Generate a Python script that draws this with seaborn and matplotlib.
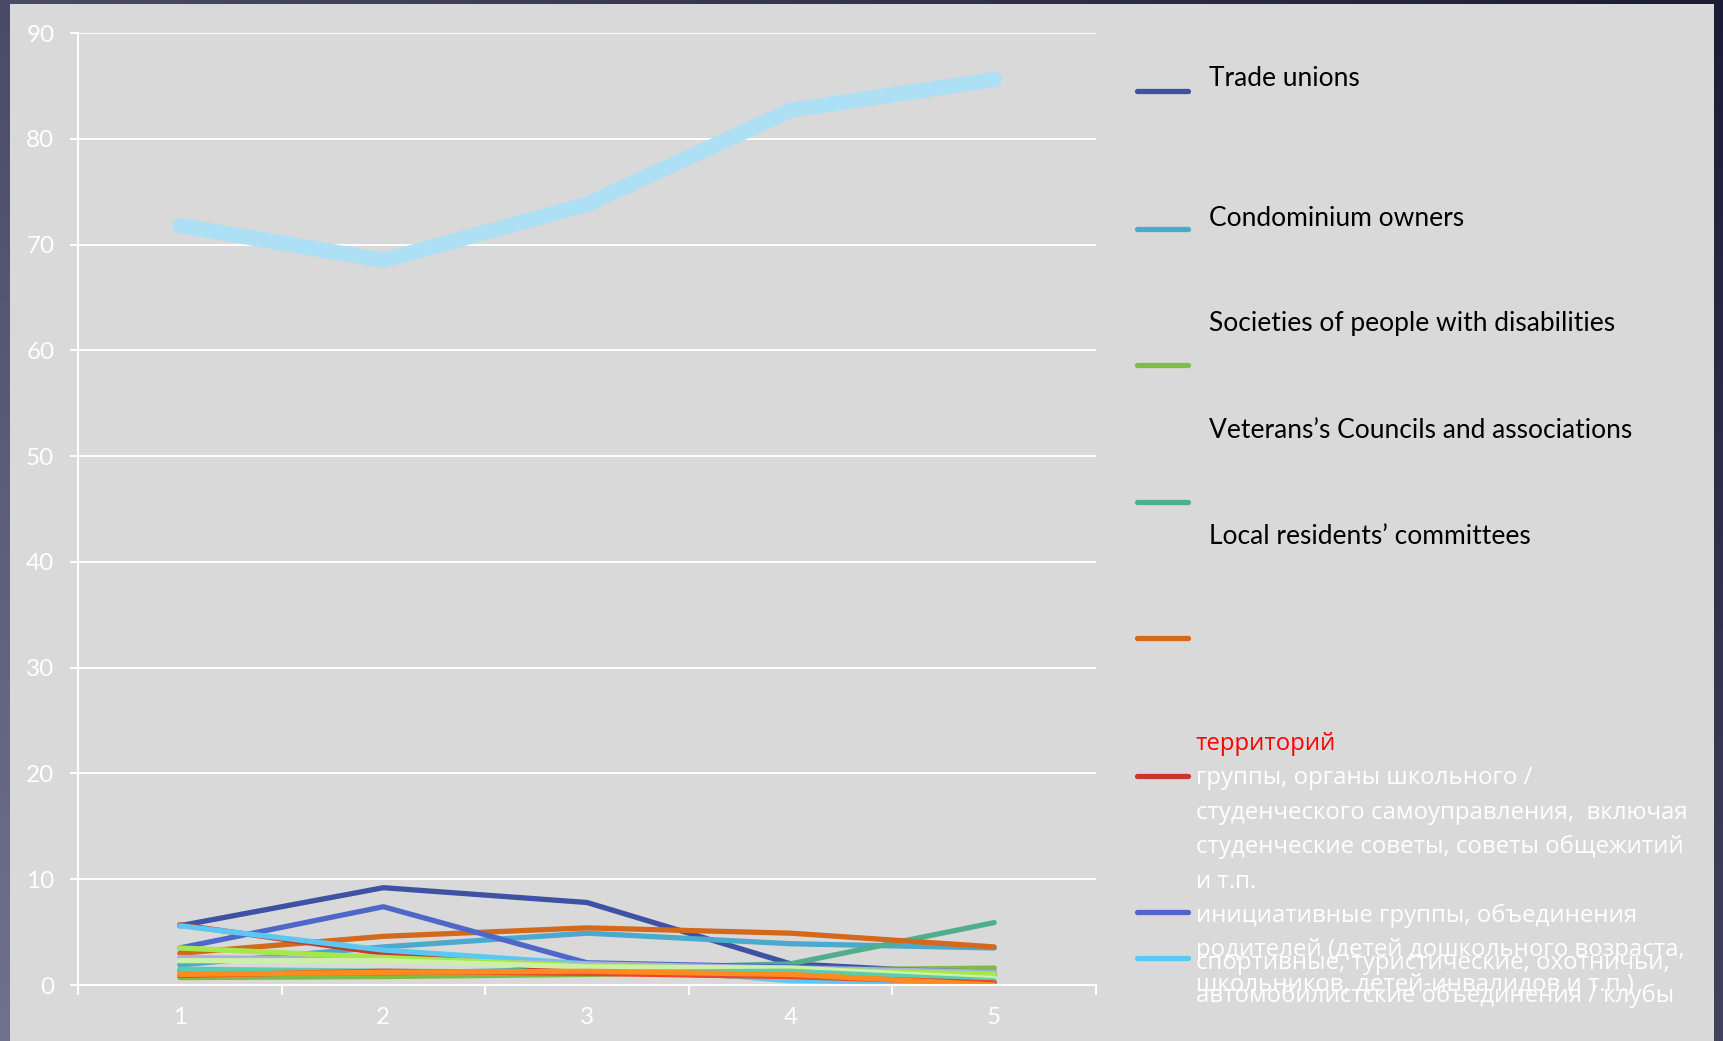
import numpy as np
import pandas as pd
import seaborn as sns
import matplotlib.pyplot as plt
from matplotlib.colors import LinearSegmentedColormap
from matplotlib.patches import Rectangle

# x categories
periods = [1, 2, 3, 4, 5]

# values
top_series = [71.8, 68.5, 73.8, 82.7, 85.6]
trade_unions = [5.6, 9.2, 7.8, 2.0, 1.0]
condominium = [1.9, 3.6, 4.9, 3.9, 3.5]
disabilities = [0.7, 0.8, 1.0, 1.4, 1.6]
veterans = [1.3, 1.1, 1.5, 2.0, 5.9]
local_committees = [3.0, 4.6, 5.4, 4.9, 3.6]
student_groups = [5.7, 3.0, 1.3, 0.7, 0.1]
parent_groups = [3.5, 7.4, 2.1, 1.7, 1.2]
sport_clubs = [5.6, 3.3, 2.0, 0.4, 0.2]
other_lavender = [2.6, 2.4, 2.0, 1.6, 1.2]
other_yellowgreen = [3.5, 2.6, 1.8, 1.5, 1.0]
other_palegreen = [2.3, 2.3, 1.7, 1.6, 0.6]
other_mint = [1.5, 1.3, 1.2, 1.3, 0.4]
other_red = [0.9, 1.3, 1.1, 0.8, 0.2]
other_orange = [1.0, 1.2, 1.3, 1.0, 0.0]

series_names = ["Trade unions", "Condominium owners", "Societies of people with disabilities",
                "Veterans's Councils and associations", "Local residents' committees",
                "student", "parents", "sport",
                "other_lavender", "other_yellowgreen", "other_palegreen", "other_mint",
                "other_red", "other_orange"]
series_values = [trade_unions, condominium, disabilities, veterans, local_committees,
                 student_groups, parent_groups, sport_clubs,
                 other_lavender, other_yellowgreen, other_palegreen, other_mint,
                 other_red, other_orange]
series_colors = ["#3f51a3", "#4aa9cc", "#7dbd45", "#4fae8e", "#d4691c",
                 "#c8392b", "#4f67c9", "#5ac8f2",
                 "#aab0dc", "#a6e84c", "#cdf0a8", "#5acdb0",
                 "#ee4427", "#ff8a1e"]

df = pd.DataFrame({
    "period": periods * len(series_names),
    "value": [v for vals in series_values for v in vals],
    "series": [n for n in series_names for _ in periods],
})
df_top = pd.DataFrame({"period": periods, "value": top_series})

# legend texts (as laid out in the original slide)
legend_en = ["Trade unions", "Condominium owners", "Societies of people with disabilities",
             "Veterans\u2019s Councils and associations", "Local residents\u2019 committees"]
legend_ru_red = "территорий"
legend_ru = ["группы, органы школьного /",
             "студенческого самоуправления,  включая",
             "студенческие советы, советы общежитий",
             "и т.п.",
             "инициативные группы, объединения",
             "родителей (детей дошкольного возраста,",
             "спортивные, туристические, охотничьи,",
             "школьников, детей-инвалидов и т.п.)",
             "автомобилистские объединения / клубы"]

sns.set_style("white")
plt.rcParams["font.family"] = ["Lato", "DejaVu Sans"]

W, H = 1723, 1041
fig = plt.figure(figsize=(W / 100, H / 100), dpi=100)

# slide background: dark gradient frame + grey panel
bg = fig.add_axes([0, 0, 1, 1])
gx, gy = np.meshgrid(np.linspace(0, 1, 200), np.linspace(0, 1, 200))
grad = 0.55 * (1 - gx) + 0.45 * gy
cmap = LinearSegmentedColormap.from_list("frame", ["#1c1c36", "#70718e"])
bg.imshow(grad, cmap=cmap, aspect="auto", extent=[0, 1, 0, 1], origin="upper")
bg.add_patch(Rectangle((10 / W, 0), (1714 - 10) / W, (1041 - 4) / H,
                       facecolor="#d9d9d9", edgecolor="none"))
bg.set_xlim(0, 1)
bg.set_ylim(0, 1)
bg.axis("off")

ax = fig.add_axes([78 / W, 1 - 985 / H, (1096 - 78) / W, (985 - 33) / H])
ax.set_facecolor("none")

sns.lineplot(data=df, x="period", y="value", hue="series", hue_order=series_names,
             palette=dict(zip(series_names, series_colors)), linewidth=3.8,
             estimator=None, sort=False, legend=False, solid_capstyle="round", ax=ax)
sns.lineplot(data=df_top, x="period", y="value", color="#addff5", linewidth=11,
             estimator=None, sort=False, solid_capstyle="round", ax=ax)

ax.set_xlim(0.5, 5.5)
ax.set_ylim(0, 90)
ax.set_yticks(range(0, 91, 10))
ax.set_xticks(periods)
ax.set_xticks([p + 0.5 for p in [0] + periods], minor=True)
ax.set_xlabel("")
ax.set_ylabel("")
ax.grid(axis="y", color="white", linewidth=1.4)
ax.set_axisbelow(True)
for side in ["top", "right"]:
    ax.spines[side].set_visible(False)
for side in ["left", "bottom"]:
    ax.spines[side].set_color("white")
    ax.spines[side].set_linewidth(1.5)
ax.tick_params(axis="y", colors="white", labelsize=17.5, length=6, width=1.4, pad=11, left=True)
ax.tick_params(axis="x", which="major", colors="white", labelsize=17.5, length=0, pad=16)
ax.tick_params(axis="x", which="minor", color="white", length=7, width=1.4, bottom=True)

# legend drawn at the slide positions
leg = fig.add_axes([0, 0, 1, 1])
leg.set_xlim(0, W)
leg.set_ylim(H, 0)
leg.axis("off")
legend_line_y = [91, 229, 365, 502, 638, 776, 912, 958]
legend_text_y = [78, 219, 324, 430, 536]
for y, c in zip(legend_line_y, series_colors[:8]):
    leg.plot([1137, 1188], [y, y], color=c, linewidth=3.8, solid_capstyle="round")
for y, t in zip(legend_text_y, legend_en):
    leg.text(1209, y, t, fontsize=19, color="black", va="center", ha="left")
ru_font = ["Open Sans", "DejaVu Sans"]
leg.text(1196, 744, legend_ru_red, fontsize=17.3, color="#ff0000", va="center", ha="left",
         family=ru_font)
ru_y = [778, 813, 847, 882, 916, 950, 963, 985, 996]
for y, t in zip(ru_y, legend_ru):
    leg.text(1196, y, t, fontsize=17.3, color="white", va="center", ha="left", family=ru_font)

fig.savefig("out.png", dpi=100)
